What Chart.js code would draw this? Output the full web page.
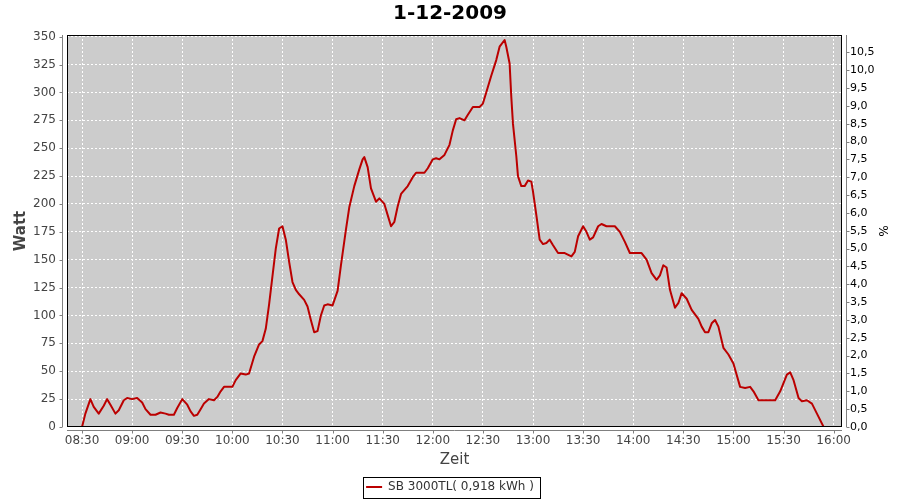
<!DOCTYPE html>
<html lang="de">
<head>
<meta charset="utf-8">
<title>1-12-2009</title>
<script src="https://cdn.jsdelivr.net/npm/chart.js@4.4.1/dist/chart.umd.min.js"></script>
<style>
  html, body { margin: 0; padding: 0; background: #fff; }
  #chart { display: block; }
</style>
</head>
<body>
<canvas id="chart" width="900" height="500"></canvas>
<script>
const titel = "1-12-2009";
const serieName = "SB 3000TL( 0,918 kWh )";

// Messzeitpunkte und Leistung in Watt
const zeiten = [
  "08:30","08:32","08:35","08:37","08:40","08:43","08:45","08:47","08:50","08:52","08:55","08:57",
  "09:00","09:03","09:06","09:08","09:11","09:14","09:17","09:20","09:22","09:25","09:27","09:30",
  "09:33","09:35","09:37","09:39","09:41","09:43","09:46","09:49","09:51","09:53","09:55",
  "10:00","10:02","10:05","10:08","10:10","10:13","10:16","10:18","10:20","10:22","10:24","10:26",
  "10:28","10:30","10:32","10:34","10:36","10:38","10:40","10:43","10:45","10:47","10:49","10:51",
  "10:53","10:55","10:57",
  "11:00","11:03","11:05","11:08","11:10","11:13","11:16","11:18","11:19","11:21","11:23","11:26",
  "11:28","11:31","11:33","11:35","11:37","11:39","11:41","11:45","11:48","11:50","11:55","11:57",
  "12:00","12:02","12:04","12:07","12:10","12:12","12:14","12:16","12:19","12:21","12:24","12:28",
  "12:30","12:32","12:35","12:38","12:40","12:43","12:44","12:46","12:47","12:48","12:50","12:51",
  "12:53","12:55","12:57","12:59",
  "13:00","13:02","13:04","13:06","13:08","13:10","13:12","13:15","13:19","13:23","13:25","13:27",
  "13:30","13:32","13:34","13:36","13:39","13:41","13:44","13:49","13:52","13:55","13:58",
  "14:05","14:08","14:11","14:14","14:16","14:18","14:20","14:22","14:25","14:27","14:29","14:32",
  "14:35","14:39","14:41","14:43","14:45","14:47","14:49","14:51","14:54","14:57",
  "15:00","15:04","15:07","15:10","15:12","15:15","15:20","15:25","15:28","15:32","15:34","15:36",
  "15:39","15:41","15:44","15:47","15:50","15:54"
];
const watt = [
  0, 12, 25, 18, 12, 19, 25, 20, 12, 15, 24, 26,
  25, 26, 22, 16, 11, 11, 13, 12, 11, 11, 17, 25,
  20, 14, 10, 11, 16, 21, 25, 24, 27, 32, 36,
  36, 42, 48, 47, 48, 63, 74, 77, 88, 110, 135, 160,
  178, 180, 168, 148, 130, 123, 119, 114, 108, 96, 85, 86,
  100, 109, 110,
  109, 122, 145, 177, 197, 216, 231, 240, 242, 233, 214, 202,
  205, 200, 190, 180, 184, 198, 209, 216, 224, 228, 228, 232,
  240, 241, 240, 244, 253, 266, 276, 277, 275, 280, 287, 287,
  290, 300, 315, 329, 341, 347, 341, 326, 296, 272, 243, 225,
  216, 216, 221, 220,
  211, 190, 168, 164, 165, 168, 163, 156, 156, 153, 157, 171,
  180, 175, 168, 170, 180, 182, 180, 180, 175, 166, 156,
  156, 150, 138, 132, 136, 145, 143, 123, 107, 111, 120, 115,
  105, 97, 90, 85, 85, 93, 96, 90, 71, 65,
  57, 36, 35, 36, 32, 24, 24, 24, 32, 47, 49, 42,
  26, 23, 24, 21, 12, 0
];

const zeitTicks = ["08:30","09:00","09:30","10:00","10:30","11:00","11:30","12:00",
  "12:30","13:00","13:30","14:00","14:30","15:00","15:30","16:00"];

const achseMin = "08:21";
const achseMax = "16:05";
const wattMax = 351.5;
const wattSchritt = 25;
const prozentSchritt = 0.5;
const nennLeistung = 3200; // 100 % auf der rechten Achse

function minuten(t) {
  const [h, m] = t.split(":");
  return Number(h) * 60 + Number(m);
}
function alsZeit(v) {
  const h = Math.floor(v / 60), m = Math.round(v % 60);
  return String(h).padStart(2, "0") + ":" + String(m).padStart(2, "0");
}

const punkte = zeiten.map((z, i) => ({ x: minuten(z), y: watt[i] }));

const tickFarbe = "#444444";
const achsenFarbe = "#808080";

// Hintergrund, Rahmen, abgesetzte Achsenlinien und Legendenrahmen
const plotRahmen = {
  id: "plotRahmen",
  beforeDraw(chart) {
    const { ctx, chartArea: a } = chart;
    ctx.save();
    ctx.fillStyle = "#ffffff";
    ctx.fillRect(0, 0, chart.width, chart.height);
    ctx.fillStyle = "#cccccc";
    ctx.fillRect(a.left, a.top, a.right - a.left, a.bottom - a.top);
    ctx.restore();
  },
  afterDraw(chart) {
    const { ctx, chartArea: a, scales } = chart;
    ctx.save();
    ctx.lineWidth = 1;

    ctx.strokeStyle = achsenFarbe;
    ctx.beginPath();
    const lx = a.left - 4.5, bx = a.bottom + 3.5, rx = a.right + 4.5;
    ctx.moveTo(lx, a.top); ctx.lineTo(lx, a.bottom);
    ctx.moveTo(a.left, bx); ctx.lineTo(a.right, bx);
    ctx.moveTo(rx, a.top); ctx.lineTo(rx, a.bottom);
    scales.y.ticks.forEach(t => {
      const p = Math.round(scales.y.getPixelForValue(t.value)) + 0.5;
      ctx.moveTo(lx, p); ctx.lineTo(lx - 3, p);
    });
    scales.y1.ticks.forEach(t => {
      const p = Math.round(scales.y1.getPixelForValue(t.value)) + 0.5;
      ctx.moveTo(rx, p); ctx.lineTo(rx + 3, p);
    });
    scales.x.ticks.forEach(t => {
      const p = Math.round(scales.x.getPixelForValue(t.value)) + 0.5;
      ctx.moveTo(p, bx); ctx.lineTo(p, bx + 3);
    });
    ctx.stroke();

    ctx.strokeStyle = "#000000";
    ctx.strokeRect(a.left + 0.5, a.top + 0.5, a.right - a.left - 1, a.bottom - a.top - 1);

    const hb = chart.legend.legendHitBoxes[0];
    if (hb) {
      const mitte = hb.top + hb.height / 2;
      ctx.strokeRect(Math.round(hb.left - 3) + 0.5, Math.round(mitte - 10.5) + 0.5,
        Math.round(hb.width + 9), 21);
    }
    ctx.restore();
  }
};

Chart.defaults.font.family = "'DejaVu Sans', sans-serif";

new Chart(document.getElementById("chart"), {
  type: "line",
  data: {
    datasets: [{
      label: serieName,
      data: punkte,
      borderColor: "#bb0000",
      backgroundColor: "#bb0000",
      borderWidth: 2,
      pointRadius: 0,
      tension: 0,
      borderJoinStyle: "round"
    }]
  },
  options: {
    responsive: false,
    animation: false,
    layout: { autoPadding: false, padding: { left: 0, right: 0, top: 0, bottom: -3 } },
    plugins: {
      title: {
        display: true,
        text: titel,
        color: "#000000",
        font: { size: 20, weight: "bold" },
        padding: { top: 2, bottom: 9 }
      },
      legend: {
        position: "bottom",
        labels: {
          color: "#333333",
          font: { size: 12 },
          usePointStyle: true,
          pointStyle: "line",
          pointStyleWidth: 16,
          padding: 6
        }
      },
      tooltip: { enabled: false }
    },
    scales: {
      x: {
        type: "linear",
        min: minuten(achseMin),
        max: minuten(achseMax),
        afterBuildTicks: s => { s.ticks = zeitTicks.map(t => ({ value: minuten(t) })); },
        afterFit: s => { s.height = 48; },
        ticks: {
          callback: v => alsZeit(v),
          color: tickFarbe,
          font: { size: 12 },
          maxRotation: 0,
          autoSkip: false,
          padding: 7
        },
        grid: { color: "#ffffff", drawTicks: false, tickBorderDash: [] },
        border: { display: false, dash: [2, 2] },
        title: {
          display: true,
          text: "Zeit",
          color: tickFarbe,
          font: { size: 15 },
          padding: { top: 2, bottom: 6 }
        }
      },
      y: {
        position: "left",
        min: 0,
        max: wattMax,
        afterFit: s => { s.width = 67; },
        ticks: {
          stepSize: wattSchritt,
          includeBounds: false,
          color: tickFarbe,
          font: { size: 12 },
          padding: 11
        },
        grid: { color: "#ffffff", drawTicks: false, tickBorderDash: [] },
        border: { display: false, dash: [2, 2] },
        title: {
          display: true,
          text: "Watt",
          color: tickFarbe,
          font: { size: 15, weight: "bold" },
          padding: { top: 12, bottom: 0 }
        }
      },
      y1: {
        position: "right",
        min: 0,
        max: wattMax / nennLeistung * 100,
        afterFit: s => { s.width = 58; },
        ticks: {
          stepSize: prozentSchritt,
          includeBounds: false,
          callback: v => v.toFixed(1).replace(".", ","),
          color: "#000000",
          font: { size: 11 },
          padding: 8
        },
        grid: { drawOnChartArea: false, drawTicks: false },
        border: { display: false },
        title: {
          display: true,
          text: "%",
          color: "#000000",
          font: { size: 12 },
          padding: { top: 11, bottom: 0 }
        }
      }
    }
  },
  plugins: [plotRahmen]
});
</script>
</body>
</html>
